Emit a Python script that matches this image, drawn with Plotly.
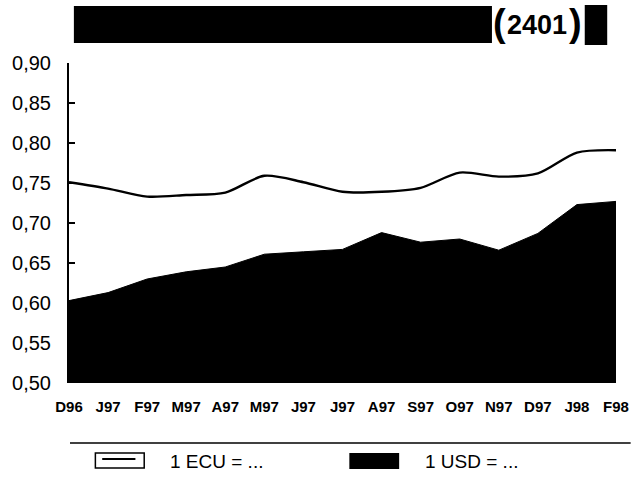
import plotly.graph_objects as go

months = ["D96", "J97", "F97", "M97", "A97", "M97", "J97", "J97",
          "A97", "S97", "O97", "N97", "D97", "J98", "F98"]
ecu = [0.751, 0.743, 0.733, 0.735, 0.738, 0.759, 0.751, 0.739,
       0.739, 0.744, 0.763, 0.758, 0.762, 0.788, 0.791]
usd = [0.603, 0.613, 0.630, 0.639, 0.645, 0.661, 0.664, 0.667,
       0.688, 0.676, 0.680, 0.666, 0.687, 0.723, 0.727]
y_ticks = [0.50, 0.55, 0.60, 0.65, 0.70, 0.75, 0.80, 0.85, 0.90]
y_labels = ["0,50", "0,55", "0,60", "0,65", "0,70", "0,75", "0,80", "0,85", "0,90"]
legend_labels = ["1 ECU = ...", "1 USD = ..."]
title_code = "2401"

W, H = 641, 477
L, R, T, B = 66, 15, 63, 94
PW, PH = W - L - R, H - T - B


def px(x):
    return (x - L) / PW


def py(y):
    return (H - B - y) / PH


xs = list(range(len(months)))

fig = go.Figure()
fig.add_trace(go.Scatter(x=xs, y=usd, mode="lines", fill="tozeroy",
                         fillcolor="black", line=dict(color="black", width=1),
                         showlegend=False, hoverinfo="skip"))
fig.add_trace(go.Scatter(x=xs, y=ecu, mode="lines",
                         line=dict(color="black", width=2.4, shape="spline", smoothing=0.8),
                         showlegend=False, hoverinfo="skip"))

shapes = []
annotations = []
# header bar
shapes.append(dict(type="rect", xref="paper", yref="paper", x0=px(71), x1=px(499),
                   y0=py(43), y1=py(6), fillcolor="black", line=dict(width=0)))
shapes.append(dict(type="rect", xref="paper", yref="paper", x0=px(594), x1=px(617),
                   y0=py(45), y1=py(5), fillcolor="black", line=dict(width=0)))
annotations.append(dict(xref="paper", yref="paper", x=px(507), y=py(23), text="<b>(</b>",
                        showarrow=False, font=dict(size=38, color="black", family="Liberation Sans Narrow, Liberation Sans"),
                        xanchor="center", yanchor="middle"))
annotations.append(dict(xref="paper", yref="paper", x=px(585), y=py(23), text="<b>)</b>",
                        showarrow=False, font=dict(size=38, color="black", family="Liberation Sans Narrow, Liberation Sans"),
                        xanchor="center", yanchor="middle"))
annotations.append(dict(xref="paper", yref="paper", x=px(545), y=py(25), text="<b>" + title_code + "</b>",
                        showarrow=False, font=dict(size=27, color="black", family="Liberation Sans"),
                        xanchor="center", yanchor="middle"))
# legend separator
shapes.append(dict(type="line", xref="paper", yref="paper", x0=px(67), x1=px(641),
                   y0=py(443), y1=py(443), line=dict(color="black", width=1.5)))
# legend ECU symbol
shapes.append(dict(type="rect", xref="paper", yref="paper", x0=px(93), x1=px(143),
                   y0=py(468), y1=py(453), fillcolor="white", line=dict(color="black", width=1.5)))
shapes.append(dict(type="line", xref="paper", yref="paper", x0=px(100), x1=px(134),
                   y0=py(459), y1=py(459), line=dict(color="black", width=2)))
annotations.append(dict(xref="paper", yref="paper", x=px(167), y=py(461), text=legend_labels[0],
                        showarrow=False, font=dict(size=19, color="black", family="Liberation Sans"),
                        xanchor="left", yanchor="middle"))
# legend USD symbol
shapes.append(dict(type="rect", xref="paper", yref="paper", x0=px(353), x1=px(404),
                   y0=py(469), y1=py(453), fillcolor="black", line=dict(width=0)))
annotations.append(dict(xref="paper", yref="paper", x=px(428), y=py(461), text=legend_labels[1],
                        showarrow=False, font=dict(size=19, color="black", family="Liberation Sans"),
                        xanchor="left", yanchor="middle"))

fig.update_layout(
    width=W, height=H,
    margin=dict(l=L, r=R, t=T, b=B),
    paper_bgcolor="white", plot_bgcolor="white",
    font=dict(family="Liberation Sans", color="black"),
    shapes=shapes, annotations=annotations,
    xaxis=dict(range=[0, 14], tickvals=xs, ticktext=["<b>" + m + "</b>" for m in months],
               showgrid=False, zeroline=False, showline=False, ticks="",
               tickfont=dict(size=15, color="black"), ticklabelstandoff=13),
    yaxis=dict(range=[0.5, 0.9], tickvals=y_ticks, ticktext=y_labels,
               showgrid=False, zeroline=False, showline=True, linecolor="black", linewidth=2,
               ticks="inside", ticklen=6, tickwidth=2, tickcolor="black",
               tickfont=dict(size=20, color="black"), ticklabelstandoff=12),
)

fig.write_html("out.html", config={"displayModeBar": False},
               post_script="document.body.style.margin='0';document.body.style.overflow='hidden';")
